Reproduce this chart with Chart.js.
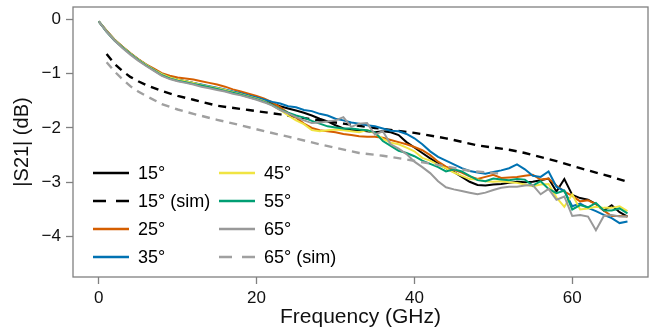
<!DOCTYPE html>
<html><head><meta charset="utf-8">
<script src="https://cdn.jsdelivr.net/npm/chart.js@4/dist/chart.umd.min.js"></script>
<style>html,body{margin:0;padding:0;background:#fff}</style>
</head><body>
<canvas id="c" width="649" height="331"></canvas>
<script>
// ---- data ----
const freq = [0,1,2,3,4,5,6,7,8,9,10,11,12,13,14,15,16,17,18,19,20,21,22,23,24,25,26,27,28,29,30,31,32,33,34,35,36,37,38,39,40,41,42,43,44,45,46,47,48,49,50,51,52,53,54,55,56,57,58,59,60,61,62,63,64,65,66,67];
const s15 = [-0.04,-0.22,-0.38,-0.51,-0.63,-0.74,-0.84,-0.93,-1.01,-1.07,-1.11,-1.14,-1.17,-1.21,-1.24,-1.27,-1.31,-1.34,-1.37,-1.41,
 -1.45,-1.50,-1.55,-1.60,-1.64,-1.68,-1.72,-1.77,-1.83,-1.88,-1.95,-2.01,-2.04,-2.04,-2.06,-2.08,-2.06,-2.08,-2.13,-2.26,-2.36,-2.46,-2.56,-2.65,-2.74,-2.81,-2.90,-2.99,-3.05,-3.06,-3.04,-3.03,-3.01,-2.99,-3.00,-2.99,-2.96,-2.93,-3.17,-2.94,-3.23,-3.29,-3.32,-3.40,-3.52,-3.42,-3.55,-3.63];
const s25 = [-0.04,-0.21,-0.37,-0.50,-0.62,-0.73,-0.83,-0.91,-0.99,-1.04,-1.07,-1.09,-1.11,-1.14,-1.17,-1.20,-1.24,-1.29,-1.33,-1.37,
 -1.41,-1.46,-1.53,-1.62,-1.72,-1.81,-1.92,-2.00,-2.04,-2.06,-2.08,-2.11,-2.13,-2.15,-2.16,-2.16,-2.18,-2.22,-2.26,-2.30,-2.35,-2.41,-2.50,-2.62,-2.71,-2.77,-2.82,-2.89,-2.94,-2.90,-2.86,-2.92,-2.91,-2.90,-2.88,-2.86,-2.95,-2.93,-3.06,-3.17,-3.25,-3.35,-3.33,-3.40,-3.52,-3.62,-3.62,-3.63];
const s35 = [-0.04,-0.22,-0.38,-0.51,-0.63,-0.74,-0.84,-0.93,-1.01,-1.07,-1.11,-1.14,-1.17,-1.20,-1.23,-1.26,-1.29,-1.33,-1.36,-1.40,
 -1.44,-1.48,-1.52,-1.55,-1.60,-1.62,-1.67,-1.69,-1.74,-1.77,-1.83,-1.86,-1.90,-1.92,-1.95,-1.97,-2.01,-2.05,-2.06,-2.11,-2.19,-2.30,-2.43,-2.53,-2.60,-2.67,-2.74,-2.79,-2.82,-2.84,-2.81,-2.78,-2.74,-2.67,-2.76,-2.88,-2.90,-2.80,-3.08,-3.16,-3.44,-3.39,-3.47,-3.53,-3.60,-3.66,-3.75,-3.72];
const s45 = [-0.04,-0.22,-0.38,-0.51,-0.63,-0.74,-0.84,-0.93,-1.01,-1.07,-1.11,-1.14,-1.17,-1.21,-1.24,-1.27,-1.30,-1.34,-1.38,-1.42,
 -1.46,-1.51,-1.58,-1.67,-1.77,-1.86,-1.93,-2.04,-2.06,-2.04,-2.03,-2.04,-2.06,-2.08,-2.04,-2.10,-2.20,-2.27,-2.30,-2.36,-2.43,-2.55,-2.60,-2.68,-2.74,-2.82,-2.88,-2.94,-2.95,-2.98,-2.99,-2.98,-3.00,-3.01,-3.04,-3.07,-3.04,-3.03,-3.28,-3.45,-3.22,-3.50,-3.48,-3.45,-3.47,-3.47,-3.44,-3.53];
const s55 = [-0.04,-0.23,-0.39,-0.52,-0.64,-0.75,-0.85,-0.94,-1.03,-1.09,-1.13,-1.16,-1.19,-1.22,-1.25,-1.28,-1.32,-1.35,-1.39,-1.43,
 -1.47,-1.52,-1.58,-1.66,-1.72,-1.77,-1.81,-1.87,-1.92,-1.97,-1.99,-2.01,-2.01,-2.03,-2.04,-2.08,-2.24,-2.33,-2.42,-2.46,-2.52,-2.60,-2.66,-2.72,-2.80,-2.76,-2.80,-2.88,-2.96,-2.98,-2.93,-2.95,-2.96,-2.94,-2.95,-3.06,-2.98,-3.12,-3.20,-3.15,-3.50,-3.42,-3.46,-3.38,-3.52,-3.52,-3.48,-3.57];
const s65 = [-0.04,-0.23,-0.39,-0.53,-0.65,-0.76,-0.86,-0.95,-1.04,-1.10,-1.14,-1.17,-1.20,-1.24,-1.27,-1.30,-1.33,-1.37,-1.40,-1.44,
 -1.48,-1.53,-1.59,-1.67,-1.73,-1.80,-1.86,-1.91,-1.90,-1.88,-1.86,-1.80,-1.98,-1.92,-1.91,-2.12,-2.06,-2.30,-2.38,-2.48,-2.62,-2.72,-2.83,-2.98,-3.09,-3.13,-3.16,-3.19,-3.22,-3.19,-3.14,-3.10,-3.08,-3.08,-3.06,-3.05,-3.22,-3.12,-3.32,-3.26,-3.62,-3.60,-3.63,-3.88,-3.62,-3.60,-3.63,-3.63];
const simFreq15 = [1,2,3,4,5,6,8,10,12,15,19,23,27,31,35,40,44,48,52,54,58,61,65,67];
const sim15 = [-0.64,-0.82,-0.95,-1.06,-1.14,-1.21,-1.32,-1.41,-1.48,-1.59,-1.67,-1.75,-1.84,-1.92,-2.00,-2.09,-2.19,-2.32,-2.40,-2.46,-2.61,-2.74,-2.90,-2.99];
const simFreq65 = [1,2,3,4,5,6,8,10,12,15,18,21,24,28,33,36,39,43,47,51];
const sim65 = [-0.79,-0.96,-1.10,-1.23,-1.33,-1.41,-1.56,-1.66,-1.74,-1.85,-1.95,-2.06,-2.16,-2.30,-2.46,-2.51,-2.58,-2.68,-2.79,-2.84];
const seriesLabels = ['15°','15° (sim)','25°','35°','45°','55°','65°','65° (sim)'];
const xTicks = [0,20,40,60];
const yTicks = [0,-1,-2,-3,-4];
const xTitle = 'Frequency (GHz)';
const yTitle = '|S21| (dB)';

// ---- styling ----
const colors = ['#000000','#000000','#D55E00','#0072B2','#F0E442','#009E73','#999999','#A0A0A0'];
const dashes = [[],[8,6],[],[],[],[],[],[8,6]];
const legendDashes = [[],[13,10],[],[],[],[],[],[13,10]];
const widths = [2,2.4,2,2,2,2,2,2.4];
const xy = (xs, ys) => xs.map((x, i) => ({x, y: ys[i]}));
const seriesData = [xy(freq,s15), xy(simFreq15,sim15), xy(freq,s25), xy(freq,s35), xy(freq,s45), xy(freq,s55), xy(freq,s65), xy(simFreq65,sim65)];

const datasets = seriesData.map((d, i) => ({
  label: seriesLabels[i], data: d, borderColor: colors[i], backgroundColor: colors[i],
  borderWidth: widths[i], borderDash: dashes[i], pointRadius: 0, tension: 0, fill: false,
  order: seriesData.length - i
}));

const FONT = 'Liberation Sans, Arial, Helvetica, sans-serif';
const frameColor = '#808080';

const framePlugin = {
  id: 'frame',
  afterDraw(chart) {
    const {ctx, chartArea: a} = chart;
    ctx.save();
    ctx.strokeStyle = frameColor; ctx.lineWidth = 1.3;
    ctx.strokeRect(a.left, a.top, a.right - a.left, a.bottom - a.top);
    ctx.restore();
  }
};
const legendPlugin = {
  id: 'innerLegend',
  afterDatasetsDraw(chart) {
    const {ctx} = chart;
    const cols = [{x0: 93, x1: 129, tx: 138}, {x0: 219, x1: 255, tx: 264}];
    const rowY = [173, 201, 229, 257];
    ctx.save();
    ctx.font = '18px ' + FONT; ctx.textBaseline = 'middle'; ctx.fillStyle = '#000';
    seriesLabels.forEach((lab, i) => {
      const c = cols[Math.floor(i / 4)], y = rowY[i % 4];
      ctx.strokeStyle = colors[i]; ctx.lineWidth = 2.6; ctx.setLineDash(legendDashes[i]);
      ctx.beginPath(); ctx.moveTo(c.x0, y); ctx.lineTo(c.x1, y); ctx.stroke();
      ctx.setLineDash([]);
      ctx.fillText(lab, c.tx, y + 1);
    });
    ctx.restore();
  }
};

new Chart(document.getElementById('c'), {
  type: 'line',
  data: {datasets},
  options: {
    responsive: false, animation: false, devicePixelRatio: 1,
    layout: {padding: {top: 7, right: 1, left: 0, bottom: 0}},
    plugins: {legend: {display: false}, tooltip: {enabled: false}},
    scales: {
      x: {
        type: 'linear', min: -3.26, max: 69.6,
        afterFit: s => { s.height = 54; s.paddingLeft = 0; s.paddingRight = 0; },
        afterBuildTicks: s => { s.ticks = xTicks.map(v => ({value: v})); },
        grid: {display: true, drawOnChartArea: false, drawTicks: true, tickLength: 7, tickColor: frameColor, tickWidth: 1.3},
        border: {display: false},
        ticks: {color: '#111', font: {family: FONT, size: 17}, padding: 4, maxRotation: 0},
        title: {display: true, text: xTitle, color: '#111', font: {family: FONT, size: 21}, padding: {top: 0, bottom: 1}}
      },
      y: {
        type: 'linear', min: -4.742, max: 0.226,
        afterFit: s => { s.width = 73; s.paddingTop = 0; s.paddingBottom = 0; },
        afterBuildTicks: s => { s.ticks = yTicks.map(v => ({value: v})); },
        grid: {display: true, drawOnChartArea: false, drawTicks: true, tickLength: 7, tickColor: frameColor, tickWidth: 1.3},
        border: {display: false},
        ticks: {color: '#111', font: {family: FONT, size: 17}, padding: 5,
          callback: v => (v < 0 ? '\u2212' + Math.abs(v) : String(v))},
        title: {display: true, text: yTitle, color: '#111', font: {family: FONT, size: 20}, padding: {top: 10, bottom: 0}}
      }
    }
  },
  plugins: [framePlugin, legendPlugin]
});
</script>
</body></html>
